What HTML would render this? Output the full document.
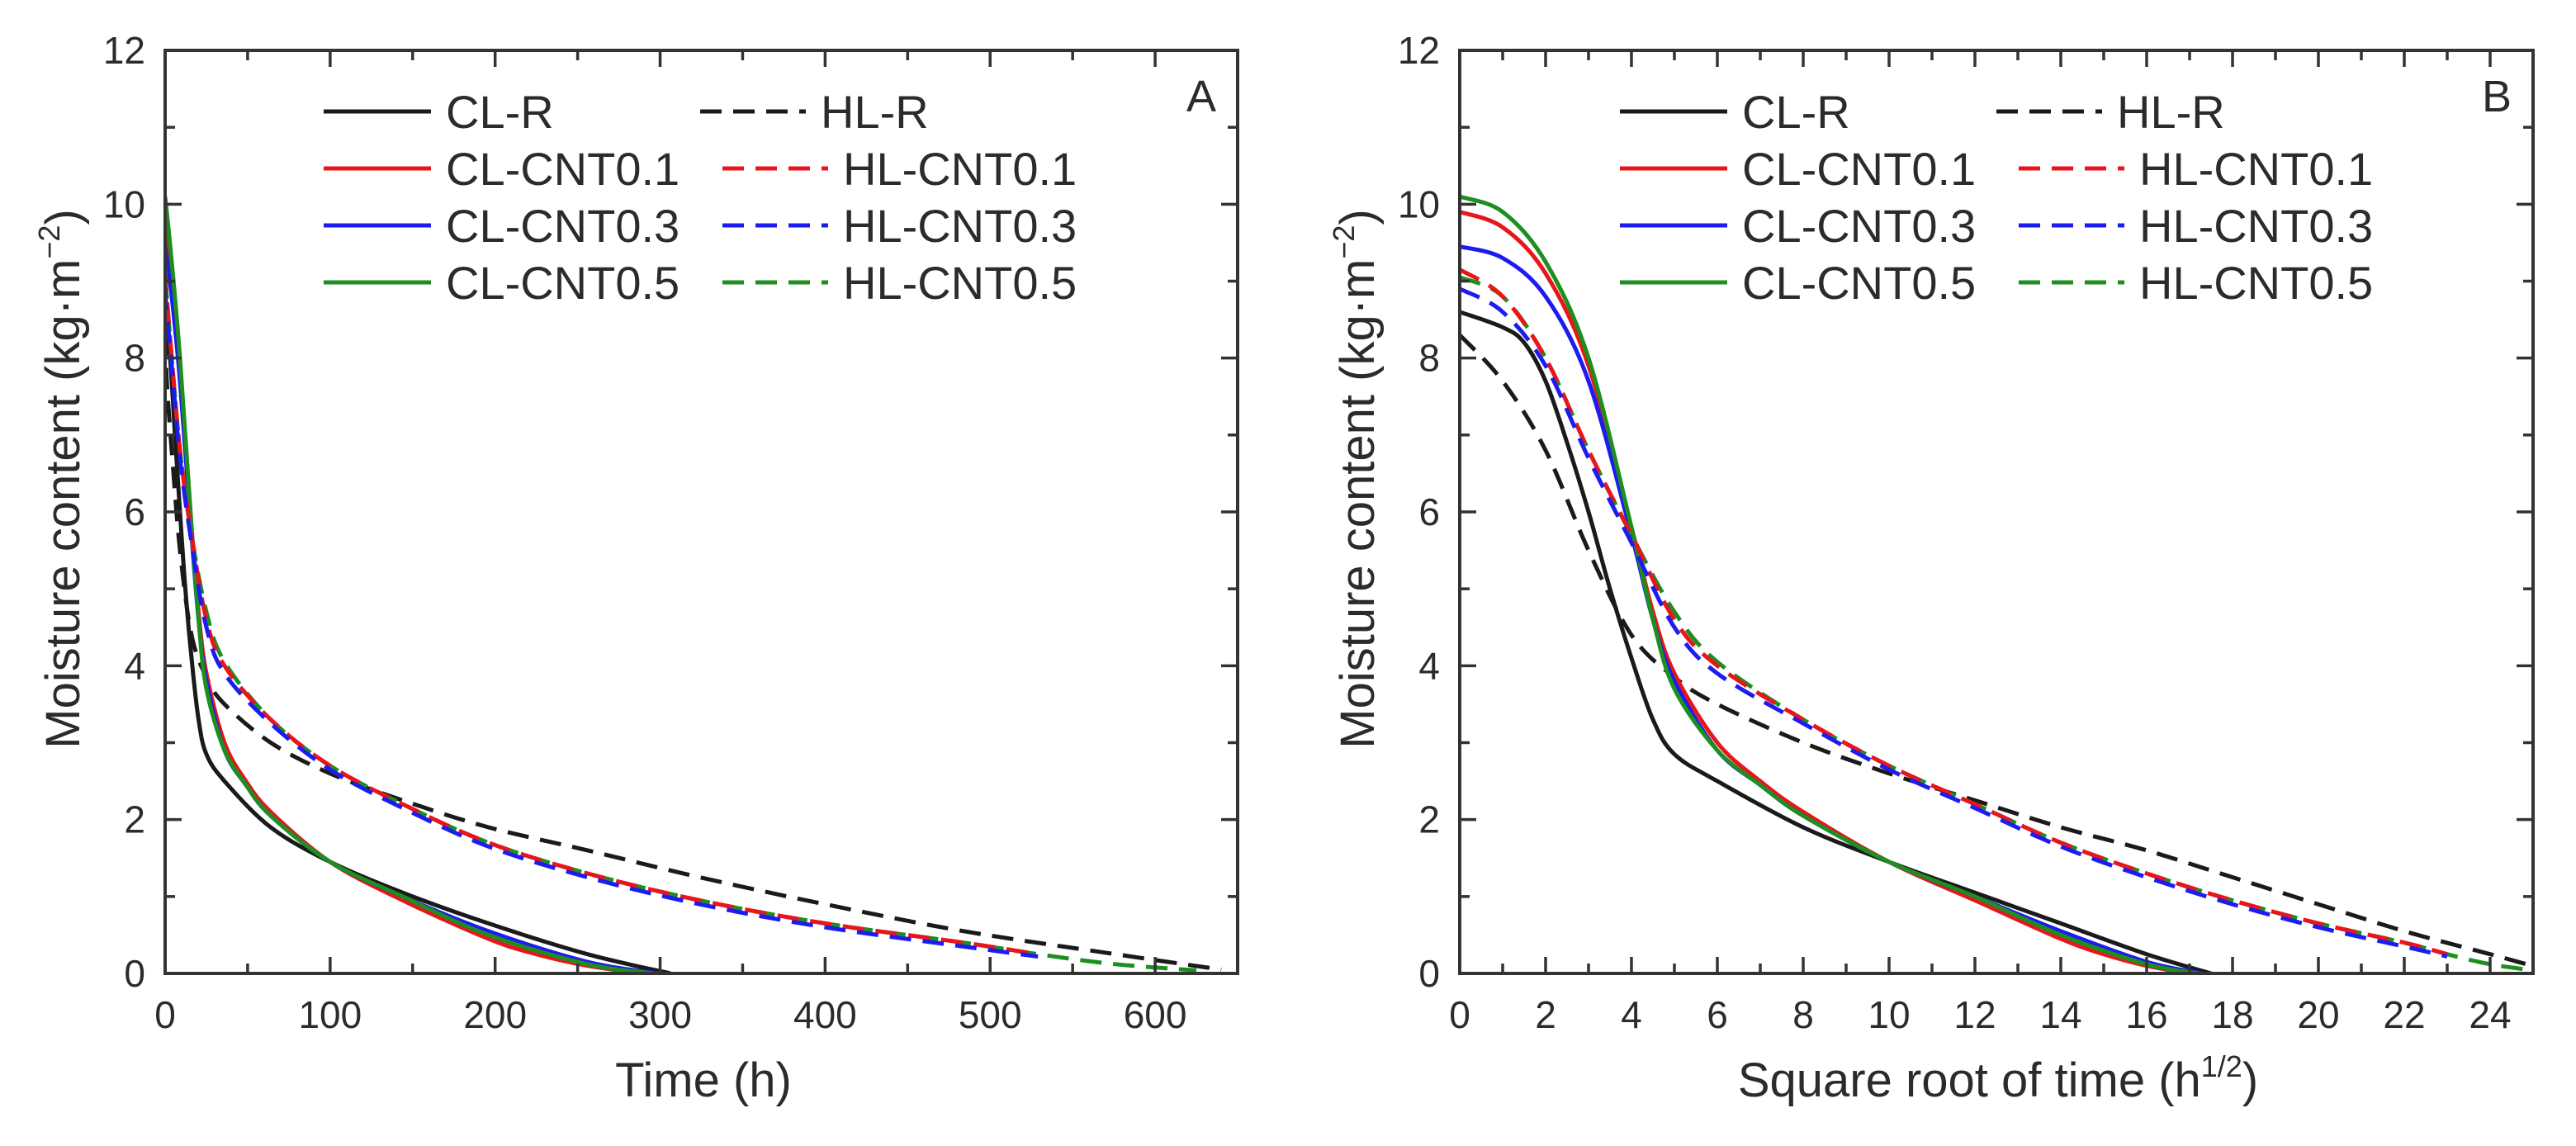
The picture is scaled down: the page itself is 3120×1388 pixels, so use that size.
<!DOCTYPE html>
<html><head><meta charset="utf-8"><style>
html,body{margin:0;padding:0;background:#fff;}
svg{display:block;}
text{font-family:"Liberation Sans",Arial,sans-serif;fill:#2b2b2b;}
</style></head><body>
<svg id="chart" width="3120" height="1388" viewBox="0 0 3120 1388" xmlns="http://www.w3.org/2000/svg">
<defs>
<clipPath id="clipA"><rect x="200" y="61" width="1299" height="1118"/></clipPath>
<clipPath id="clipB"><rect x="1768" y="61" width="1300" height="1118"/></clipPath>
</defs>
</svg>
<script>
// sqrt-time (h^1/2) sample positions and moisture content values (kg/m2)
const clRX=[0,1,1.5,2,2.5,3,3.5,4,4.5,5,6,8,10,12,14,16,17.5];
const clRY=[8.6,8.4,8.2,7.7,6.9,6.0,5.0,4.1,3.3,2.85,2.5,1.9,1.45,1.05,0.65,0.25,0];
const cl1X=[0,1,2,3,4,4.5,5,6,7,8,10,12,14,15,16,17];
const cl1Y=[9.9,9.7,9.1,7.9,5.8,4.7,3.9,3.0,2.5,2.1,1.45,0.95,0.45,0.25,0.1,0];
const cl3X=[0,1,2,3,4,4.5,5,6,7,8,10,12,14,16,17.3];
const cl3Y=[9.45,9.3,8.8,7.7,5.7,4.6,3.8,2.9,2.45,2.05,1.45,1.0,0.55,0.15,0];
const cl5X=[0,1,2,3,4,4.5,5,6,7,8,10,12,14,16,17.2];
const cl5Y=[10.1,9.9,9.25,8.0,5.8,4.6,3.7,2.9,2.45,2.05,1.45,1.0,0.5,0.12,0];
const hlRX=[0,1,2,3,4,5,6,8,10,12,14,16,18,20,22,24,25.3];
const hlRY=[8.3,7.7,6.8,5.5,4.4,3.85,3.5,3.0,2.6,2.25,1.9,1.6,1.25,0.9,0.55,0.25,0.05];
const hl1X=[0,1,2,3,4,5,6,8,10,12,14,16,18,20,22,23];
const hl1Y=[9.15,8.8,8.0,6.8,5.7,4.6,4.0,3.3,2.7,2.2,1.7,1.3,0.95,0.65,0.4,0.25];
const hl3X=[0,1,2,3,4,5,6,8,10,12,14,16,18,20,22,23];
const hl3Y=[8.9,8.6,7.9,6.7,5.6,4.5,3.9,3.25,2.65,2.15,1.65,1.25,0.9,0.6,0.35,0.22];
const hl5X=[0,1,2,3,4,5,6,8,10,12,14,16,18,20,22,23,24,25];
const hl5Y=[9.05,8.8,8.0,6.8,5.7,4.7,4.05,3.3,2.7,2.2,1.7,1.3,0.95,0.65,0.4,0.25,0.12,0.04];
const xTicksA=[0,100,200,300,400,500,600];
const xTicksB=[0,2,4,6,8,10,12,14,16,18,20,22,24];
const yTicks=[0,2,4,6,8,10,12];
const legendLabelsCL=["CL-R","CL-CNT0.1","CL-CNT0.3","CL-CNT0.5"];
const legendLabelsHL=["HL-R","HL-CNT0.1","HL-CNT0.3","HL-CNT0.5"];

const NS="http://www.w3.org/2000/svg";
const svg=document.getElementById('chart');
const RED="#e8161c",BLUE="#1c1cf0",GREEN="#1e8f1e",BLACK="#1a1a1a";
const series=[
 {x:clRX,y:clRY,c:BLACK,d:false,n:"cl-r"},
 {x:hlRX,y:hlRY,c:BLACK,d:true,n:"hl-r"},
 {x:cl1X,y:cl1Y,c:RED,d:false,n:"cl-cnt0-1"},
 {x:cl3X,y:cl3Y,c:BLUE,d:false,n:"cl-cnt0-3"},
 {x:cl5X,y:cl5Y,c:GREEN,d:false,n:"cl-cnt0-5"},
 {x:hl5X,y:hl5Y,c:GREEN,d:true,n:"hl-cnt0-5"},
 {x:hl1X,y:hl1Y,c:RED,d:true,n:"hl-cnt0-1"},
 {x:hl3X,y:hl3Y,c:BLUE,d:true,n:"hl-cnt0-3"}
];
function el(tag,attrs,parent){const e=document.createElementNS(NS,tag);for(const k in attrs)e.setAttribute(k,attrs[k]);(parent||svg).appendChild(e);return e;}
function catmull(pts){
 let d="M"+pts[0][0].toFixed(1)+","+pts[0][1].toFixed(1);
 for(let i=0;i<pts.length-1;i++){
  const p0=pts[Math.max(0,i-1)],p1=pts[i],p2=pts[i+1],p3=pts[Math.min(pts.length-1,i+2)];
  const c1=[p1[0]+(p2[0]-p0[0])/6,p1[1]+(p2[1]-p0[1])/6];
  const c2=[p2[0]-(p3[0]-p1[0])/6,p2[1]-(p3[1]-p1[1])/6];
  d+=" C"+c1[0].toFixed(1)+","+c1[1].toFixed(1)+" "+c2[0].toFixed(1)+","+c2[1].toFixed(1)+" "+p2[0].toFixed(1)+","+p2[1].toFixed(1);
 }
 return d;
}
function panel(cfg){
 const {x0,x1,xmax,xMinor,xTicks,name,clip,xtr}=cfg;
 const y0=1179,y1=61;
 const sx=v=>x0+(v/xmax)*(x1-x0);
 const sy=v=>y0-(v/12)*(y0-y1);
 const g=el('g',{});
 
 
 const lg=el('g',{'clip-path':'url(#'+clip+')'},g);
 for(const s of series){
  const pts=s.x.map((v,i)=>[sx(xtr(v)),sy(s.y[i])]);
  const p=el('path',{d:catmull(pts),fill:'none',stroke:s.c,'stroke-width':5,'stroke-dasharray':s.d?'26 14':'none','stroke-linejoin':'round'},lg);
  
  
 }
 for(let v=0;v<=xmax+1e-9;v+=xMinor){
  const major=xTicks.some(t=>Math.abs(t-v)<1e-6);
  const L=major?20:12;
  el('line',{x1:sx(v),x2:sx(v),y1:y0,y2:y0-L,stroke:'#333','stroke-width':3.5},g);
  el('line',{x1:sx(v),x2:sx(v),y1:y1,y2:y1+L,stroke:'#333','stroke-width':3.5},g);
 }
 for(let v=0;v<=12;v+=1){
  const L=(v%2===0)?20:12;
  el('line',{x1:x0,x2:x0+L,y1:sy(v),y2:sy(v),stroke:'#333','stroke-width':3.5},g);
  el('line',{x1:x1,x2:x1-L,y1:sy(v),y2:sy(v),stroke:'#333','stroke-width':3.5},g);
 }
 const fr=el('rect',{x:x0,y:y1,width:x1-x0,height:y0-y1,fill:'none',stroke:'#333','stroke-width':4},g);
 
 
 for(const t of xTicks){
  const tx=el('text',{x:sx(t),y:1245,'font-size':46,'text-anchor':'middle'},g);tx.textContent=t;
  
  
 }
 for(const t of yTicks){
  const tx=el('text',{x:x0-24,y:sy(t)+16,'font-size':46,'text-anchor':'end'},g);tx.textContent=t;
  
  
 }
 const yt=el('text',{transform:'translate('+(x0-104)+',580) rotate(-90)','font-size':58,'text-anchor':'middle'},g);
 yt.innerHTML='Moisture content (kg·m<tspan dy="-24" font-size="36">−2</tspan><tspan dy="24">)</tspan>';
 
 
 const xt=el('text',{x:cfg.xtX,y:1328,'font-size':58,'text-anchor':'middle'},g);
 xt.innerHTML=cfg.xTitle;
 
 
 const pl=el('text',{x:x1-44,y:135,'font-size':54,'text-anchor':'middle'},g);pl.textContent=cfg.letter;
 
 
 const cols=[BLACK,RED,BLUE,GREEN];
 for(let i=0;i<4;i++){
  const ly=135+i*69;
  const a=cfg.lg;
  const le=el('g',{},g);
  
  
  el('line',{x1:a,x2:a+130,y1:ly,y2:ly,stroke:cols[i],'stroke-width':5},le);
  const t1=el('text',{x:a+148,y:ly+20,'font-size':56},le);t1.textContent=legendLabelsCL[i];
  const le2=el('g',{},g);
  
  
  const b=i===0?a+456:a+483;
  el('line',{x1:b,x2:b+128,y1:ly,y2:ly,stroke:cols[i],'stroke-width':5,'stroke-dasharray':'26 14'},le2);
  const t2=el('text',{x:b+146,y:ly+20,'font-size':56},le2);t2.textContent=legendLabelsHL[i];
 }
}
panel({x0:200,x1:1499,xmax:650,xMinor:50,xTicks:xTicksA,name:'panel-a',clip:'clipA',xtr:v=>v*v,
 xTitle:'Time (h)',xtX:852,letter:'A',lg:392});
panel({x0:1768,x1:3068,xmax:25,xMinor:1,xTicks:xTicksB,name:'panel-b',clip:'clipB',xtr:v=>v,
 xTitle:'Square root of time (h<tspan dy="-24" font-size="36">1/2</tspan><tspan dy="24">)</tspan>',xtX:2420,letter:'B',lg:1962});
</script>
</body></html>
